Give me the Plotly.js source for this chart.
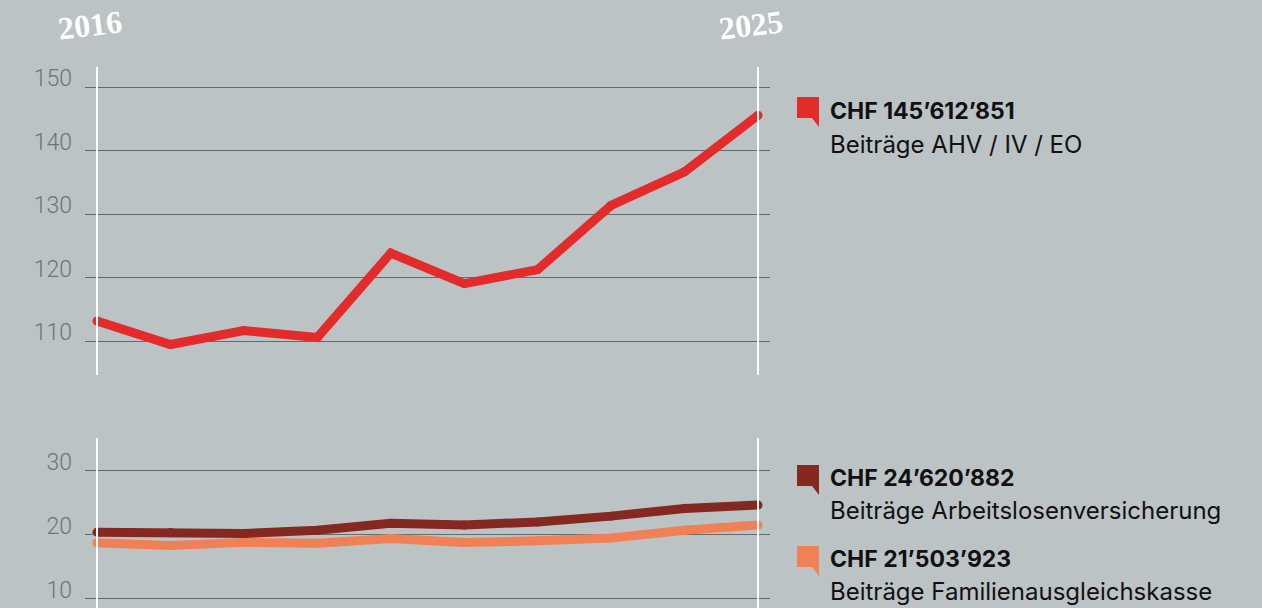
<!DOCTYPE html>
<html>
<head>
<meta charset="utf-8">
<script src="https://cdn.plot.ly/plotly-3.0.1.min.js"></script>
<style>
  html, body { margin: 0; padding: 0; background: #bcc3c4; }
  #plot { width: 1262px; height: 608px; }
</style>
</head>
<body>
<div id="plot"></div>
<script>
// Jahre und Werte (Mio. CHF)
const years = [2016, 2017, 2018, 2019, 2020, 2021, 2022, 2023, 2024, 2025];
const ahv = [113.2, 109.5, 111.7, 110.6, 123.9, 119.1, 121.3, 131.4, 136.7, 145.6];
const alv = [20.4, 20.35, 20.2, 20.7, 21.8, 21.5, 22.0, 22.9, 24.1, 24.62];
const fak = [18.75, 18.3, 18.8, 18.65, 19.4, 18.8, 19.05, 19.5, 20.7, 21.5];

const topTicks = [110, 120, 130, 140, 150];
const bottomTicks = [10, 20, 30];
const yearLabels = ['2016', '2025'];

const legendAmounts = ['CHF 145’612’851', 'CHF 24’620’882', 'CHF 21’503’923'];
const legendNames = ['Beiträge AHV / IV / EO', 'Beiträge Arbeitslosenversicherung', 'Beiträge Familienausgleichskasse'];

const RED = '#e32b2b', DARK = '#852822', ORANGE = '#f08055';
const BG = '#bcc3c4';

// Seitenränder -> Umrechnung Pixel in Papierkoordinaten
const M = { l: 85, r: 492, t: 67, b: 0 };
const W = 1262, H = 608;
const pw = W - M.l - M.r, ph = H - M.t - M.b;
const xp = px => (px - M.l) / pw;
const yp = py => (H - M.b - py) / ph;

function flag(x, y, color) {
  // kleines Fähnchen: Quadrat mit Spitze unten rechts
  const pts = [[x, y], [x + 22, y], [x + 22, y + 30], [x + 15, y + 21], [x, y + 21]];
  const path = pts.map((p, i) => (i ? 'L' : 'M') + xp(p[0]).toFixed(5) + ',' + yp(p[1]).toFixed(5)).join(' ') + ' Z';
  return { type: 'path', xref: 'paper', yref: 'paper', path: path,
           fillcolor: color, line: { width: 0 } };
}

function series(y, color, ax) {
  return { x: years, y: y, mode: 'lines+markers', xaxis: 'x' + ax, yaxis: 'y' + ax,
           line: { color: color, width: 9 }, marker: { color: color, size: 9 },
           cliponaxis: false, hoverinfo: 'skip' };
}

const traces = [
  series(ahv, RED, ''),
  series(fak, ORANGE, '2'),
  series(alv, DARK, '2')
];

const xRange = [2015.837, 2025.163];
const yAxisCommon = {
  showgrid: true, gridcolor: '#646b6b', gridwidth: 1, zeroline: false,
  showline: false, ticks: '', tickmode: 'array',
  tickfont: { family: 'Roboto', size: 23, color: '#6d7575', weight: 300 },
  ticklabelstandoff: 12, ticklabelshift: -9, fixedrange: true
};
const xAxisCommon = {
  range: xRange, showgrid: false, zeroline: false, showline: false,
  showticklabels: false, ticks: '', fixedrange: true
};

// weisse Linien bei 2016 und 2025 (in Pixeln oben/unten gemessen)
const shapes = [];
[years[0], years[years.length - 1]].forEach(yr => {
  shapes.push({ type: 'line', xref: 'x', yref: 'paper', x0: yr, x1: yr, y0: yp(375), y1: yp(67),
                line: { color: '#ffffff', width: 2 } });
  shapes.push({ type: 'line', xref: 'x', yref: 'paper', x0: yr, x1: yr, y0: yp(608), y1: yp(438),
                line: { color: '#ffffff', width: 2 } });
});
shapes.push(flag(797, 97, RED));
shapes.push(flag(797, 465, DARK));
shapes.push(flag(797, 546, ORANGE));

const annotations = [];
// Jahreszahlen oben
[[90, 25], [751, 25]].forEach((pos, i) => {
  annotations.push({ xref: 'paper', yref: 'paper', x: xp(pos[0]), y: yp(pos[1]),
    xanchor: 'center', yanchor: 'middle', showarrow: false, textangle: -7,
    text: '<b>' + yearLabels[i] + '</b>',
    font: { family: 'Liberation Serif', size: 32, color: '#ffffff' } });
});
// Legende
const legendY = [[110.5, 144.5], [478, 510.5], [559, 591]];
legendY.forEach((ys, i) => {
  annotations.push({ xref: 'paper', yref: 'paper', x: xp(828), y: yp(ys[0]),
    xanchor: 'left', yanchor: 'middle', showarrow: false,
    text: '<b>' + legendAmounts[i] + '</b>',
    font: { family: 'Inter', size: 23, color: '#111111' } });
  annotations.push({ xref: 'paper', yref: 'paper', x: xp(828), y: yp(ys[1]),
    xanchor: 'left', yanchor: 'middle', showarrow: false,
    text: legendNames[i],
    font: { family: 'Inter', size: 24, color: '#111111' } });
});

const layout = {
  width: W, height: H,
  margin: M,
  paper_bgcolor: BG, plot_bgcolor: BG,
  showlegend: false,
  xaxis: Object.assign({}, xAxisCommon, { anchor: 'y' }),
  xaxis2: Object.assign({}, xAxisCommon, { anchor: 'y2' }),
  yaxis: Object.assign({}, yAxisCommon, { domain: [0.4307, 1], range: [104.7, 153.2],
                                          tickvals: topTicks, anchor: 'x' }),
  yaxis2: Object.assign({}, yAxisCommon, { domain: [0, 0.3142], range: [8.55, 35.1],
                                           tickvals: bottomTicks, anchor: 'x2' }),
  shapes: shapes,
  annotations: annotations
};

Plotly.newPlot('plot', traces, layout, { displayModeBar: false, staticPlot: true });
</script>
</body>
</html>
